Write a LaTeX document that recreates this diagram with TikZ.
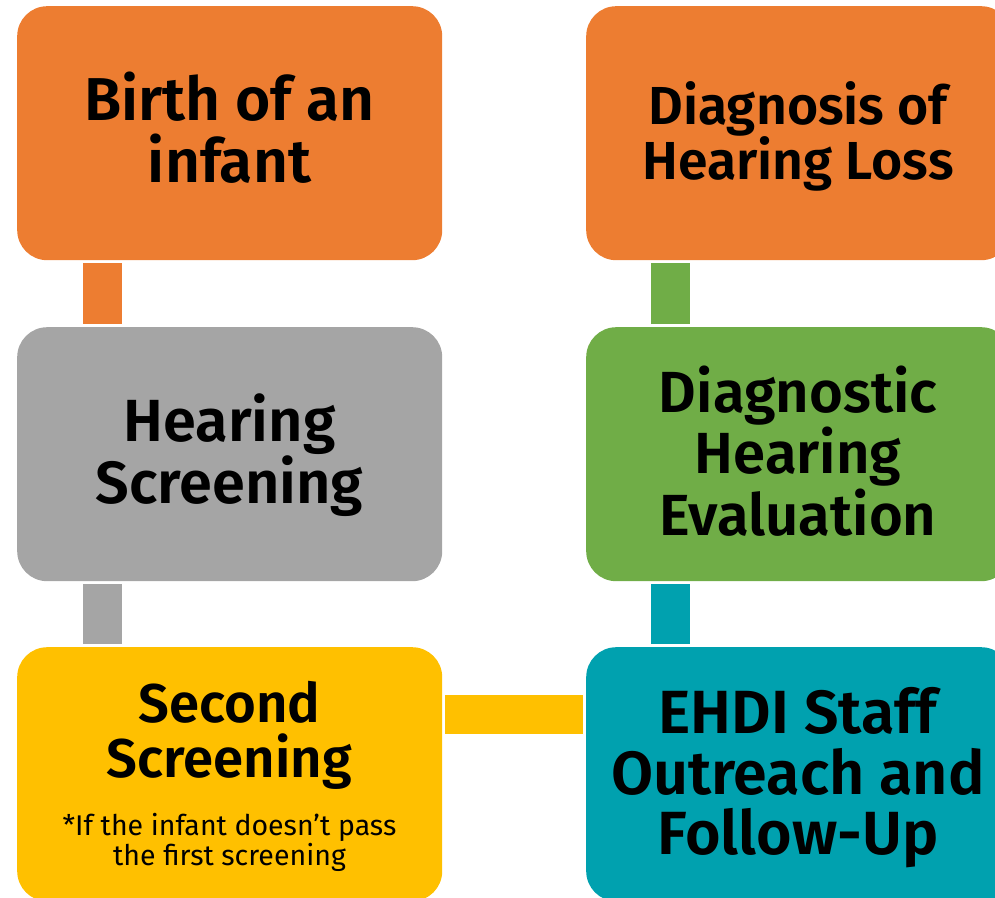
\documentclass[tikz,border=0pt]{standalone}
\usepackage{fontspec}
\setmainfont{Fira Sans}[BoldFont={Fira Sans SemiBold}]
\definecolor{stOrange}{HTML}{ED7D31}
\definecolor{stGray}{HTML}{A5A5A5}
\definecolor{stYellow}{HTML}{FFC000}
\definecolor{stGreen}{HTML}{70AD47}
\definecolor{stTeal}{HTML}{00A1AF}
\begin{document}
\begin{tikzpicture}[x=1pt,y=-1pt,
  stage/.style={rounded corners=30pt, minimum width=425pt, minimum height=254pt,
    inner sep=0pt, anchor=north west, fill=#1},
  title/.style 2 args={inner sep=0pt, align=center, text=black,
    font=\fontsize{#1}{#2}\selectfont\bfseries},
  note/.style={inner sep=0pt, align=center, text=black,
    font=\fontsize{28.5}{30}\selectfont},
  link/.style={draw=#1, line width=39pt, shorten <=3pt, shorten >=3pt}
]
\useasboundingbox (0,0) rectangle (995,897);

% stage boxes
\node[stage=stOrange] (birth)  at (17,6)   {};
\node[stage=stGray]   (screen) at (17,327) {};
\node[stage=stYellow] (second) at (17,647) {};
\node[stage=stOrange] (diag)   at (586,6)   {};
\node[stage=stGreen]  (eval)   at (586,327) {};
\node[stage=stTeal]   (ehdi)   at (586,647) {};

% connecting bars
\draw[link=stOrange] ([xshift=85.5pt]birth.south west) -- ([xshift=85.5pt]screen.north west);
\draw[link=stGray]   ([xshift=85.5pt]screen.south west) -- ([xshift=85.5pt]second.north west);
\draw[link=stYellow] ([yshift=-67.5pt]second.north east) -- ([yshift=-67.5pt]ehdi.north west);
\draw[link=stTeal]   ([xshift=84.5pt]ehdi.north west) -- ([xshift=84.5pt]eval.south west);
\draw[link=stGreen]  ([xshift=84.5pt]eval.north west) -- ([xshift=84.5pt]diag.south west);

% labels
\node[title={60.5}{62}] (birth-t)  at (229.5,127.5) {Birth of an\\infant};
\node[title={59.5}{58}] (screen-t) at (229.5,455)   {Hearing\\Screening};
\node[title={54.5}{55}] (second-t) at (229.5,735.5) {Second\\Screening};
\node[note]             (second-n) at (229.5,842)   {*If the infant doesn’t pass\\the first screening};
\node[title={53.5}{55}] (diag-t)   at (798,136.5)   {Diagnosis of\\Hearing Loss};
\node[title={58}{61.5}] (eval-t)   at (798,451)     {Diagnostic\\Hearing\\Evaluation};
\node[title={61}{60.5}] (ehdi-t)   at (798,778)     {EHDI Staff\\Outreach and\\Follow-Up};
\end{tikzpicture}
\end{document}
